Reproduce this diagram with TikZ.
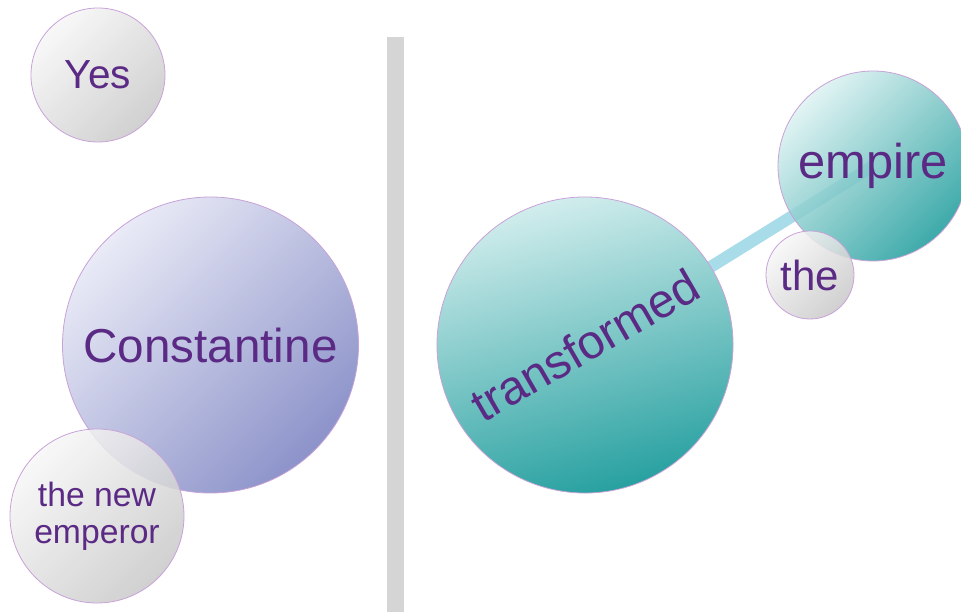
\documentclass[tikz,border=0pt]{standalone}
\usepackage{fontspec}
\setmainfont{Liberation Sans}
\usetikzlibrary{backgrounds}
\definecolor{txt}{HTML}{5B2A84}
\definecolor{rim}{HTML}{C8A2D8}
\definecolor{grayA}{HTML}{F7F7F7}
\definecolor{grayB}{HTML}{C8C8C8}
\definecolor{lavA}{HTML}{E6E7F5}
\definecolor{lavB}{HTML}{7880C0}
\definecolor{tealA}{HTML}{DDF2F2}
\definecolor{tealB}{HTML}{1C9B9B}
\definecolor{barc}{HTML}{D5D5D5}
\definecolor{linkc}{HTML}{A8DCE8}
\tikzset{
  bubble/.style={circle, draw=rim, line width=0.8pt, text=txt, inner sep=0pt,
    fill opacity=0.85, text opacity=1},
  graybub/.style={bubble, top color=grayA, bottom color=grayB, shading angle=45},
  lavbub/.style={bubble, top color=lavA, bottom color=lavB, shading angle=45},
  tealbub/.style={bubble, top color=tealA, bottom color=tealB, shading angle=45},
  link/.style={line width=12pt, draw=linkc},
  divider/.style={fill=barc, draw=none}
}
\begin{document}
\begin{tikzpicture}[x=1pt,y=-1pt]
\useasboundingbox (0,0) rectangle (961,612);
\path[divider] (387,37) rectangle (404,612);
\node[lavbub, minimum size=296pt, font=\fontsize{47.6}{50}\selectfont] (con) at (210.5,345) {Constantine};
\node[graybub, minimum size=174pt, align=center, font=\fontsize{33.7}{37}\selectfont] (nem) at (97,516) {the new\\emperor};
\node[graybub, minimum size=134pt, font=\fontsize{40.6}{44}\selectfont] (yes) at (98,75) {Yes};
\node[tealbub, fill opacity=1, minimum size=296pt, rotate=30, shading angle=15, font=\fontsize{47.8}{50}\selectfont] (tr) at (585,345) {transformed};
\node[tealbub, minimum size=190pt, font=\fontsize{48.8}{52}\selectfont] (emp) at (873,166) {empire};
\node[graybub, minimum size=88pt, font=\fontsize{42}{44}\selectfont] (the) at (810,275) {the};
\begin{scope}[on background layer]
\draw[link] (tr.center) -- (emp.center);
\end{scope}
\end{tikzpicture}
\end{document}
